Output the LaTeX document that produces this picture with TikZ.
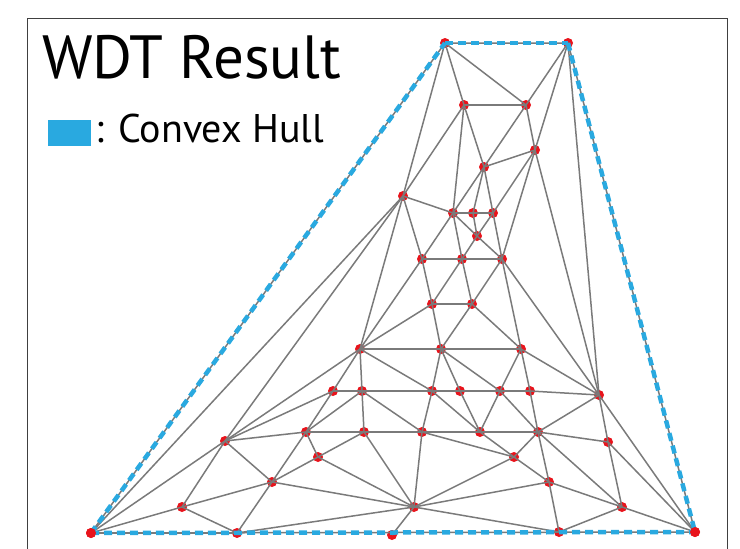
\documentclass[tikz,border=0pt]{standalone}
\usepackage{fontspec}
\setmainfont{PT Sans}
\definecolor{hullblue}{HTML}{29A9E0}
\definecolor{dotred}{HTML}{E8141C}
\definecolor{edgegray}{HTML}{7A7A7A}
\begin{document}
\begin{tikzpicture}[x=1pt,y=-1pt,
  pt/.style={circle,fill=dotred,inner sep=0pt,minimum size=10pt},
  edge/.style={draw=edgegray,line width=1.5pt},
  hull/.style={draw=hullblue,line width=4.5pt,dash pattern=on 8pt off 5pt},
  frameline/.style={draw=black!75,line width=1pt}]
\useasboundingbox (0,0) rectangle (740,549);
\draw[frameline] (27,560) -- (27,18) -- (727,18) -- (727,560);
\node[anchor=base west,inner sep=0pt,font=\fontsize{61}{61}\selectfont] (title) at (42,78) {WDT Result};
\node[fill=hullblue,inner sep=0pt,minimum width=43pt,minimum height=26pt,anchor=north west] (legbox) at (48,120) {};
\node[anchor=base west,inner sep=0pt,font=\fontsize{40}{40}\selectfont] (legtext) at (95,142) {: Convex Hull};
% points
\foreach \n/\x/\y in {A/445/43,B/568/43,C/91/533,D/695/532,
  n1/464/105,n2/526/105,n3/535/150,n4/484/167,n5/403/196,
  n6/453/213,n7/473/213,n8/493/213,n9/477/236,
  n10/422/259,n11/462/259,n12/502/259,n13/432/304,n14/472/304,
  n15/360/349,n16/441/349,n17/521/349,
  n18/333/391,n19/362/391,n20/432/391,n21/460/391,n22/500/391,n23/530/391,n24/599/395,
  n25/225/441,n26/306/432,n27/364/432,n28/422/432,n29/480/432,n30/538/432,n31/608/442,
  n32/318/457,n33/514/457,n34/272/482,n35/549/482,
  n36/182/507,n37/414/507,n38/622/507,
  n39/237/533,n40/392/535,n41/559/532}
  \node[pt] (\n) at (\x,\y) {};
% edges
\foreach \a/\b in {A/n1,A/n2,A/n5,B/n2,B/n3,B/n24,
  C/n5,C/n25,C/n36,C/n39,
  n1/n2,n1/n4,n1/n5,n1/n6,n2/n3,n2/n4,
  n3/n4,n3/n8,n3/n12,n3/n24,
  n4/n6,n4/n7,n4/n8,
  n5/n6,n5/n10,n5/n15,n5/n25,
  n6/n7,n6/n9,n6/n10,n6/n11,n7/n8,n7/n9,n8/n9,n8/n12,n9/n11,n9/n12,
  n10/n11,n10/n13,n10/n15,n11/n12,n11/n13,n11/n14,
  n12/n14,n12/n17,n12/n24,n13/n14,n13/n15,n13/n16,n14/n16,n14/n17,
  n15/n16,n15/n18,n15/n19,n15/n20,n15/n25,
  n16/n17,n16/n20,n16/n21,n16/n22,n17/n22,n17/n23,n17/n24,
  n18/n19,n18/n25,n18/n26,n19/n20,n19/n26,n19/n27,n19/n28,
  n20/n21,n20/n28,n20/n29,n21/n22,n21/n29,
  n22/n23,n22/n29,n22/n30,n23/n24,n23/n30,
  n24/n30,n24/n31,n24/D,
  n25/n26,n25/n34,n25/n36,n26/n27,n26/n32,n26/n34,
  n27/n28,n27/n32,n27/n37,n28/n29,n28/n33,n28/n37,
  n29/n30,n29/n33,n30/n31,n30/n33,n30/n35,n30/n38,
  n31/n38,n31/D,n32/n34,n32/n37,n33/n35,n33/n37,
  n34/n36,n34/n37,n34/n39,n35/n37,n35/n38,n35/n41,
  n36/n39,n37/n39,n37/n40,n37/n41,n38/n41,n38/D}
  \draw[edge] (\a.center) -- (\b.center);
% hull
\draw[edge] (A.center) -- (B.center) -- (D.center) -- (C.center) -- cycle;
\draw[hull] (A.center) -- (B.center);
\draw[hull] (B.center) -- (D.center);
\draw[hull] (C.center) -- (D.center);
\draw[hull] (C.center) -- (A.center);
\node[pt] at (D) {};
\node[pt] at (C) {};
\end{tikzpicture}
\end{document}
